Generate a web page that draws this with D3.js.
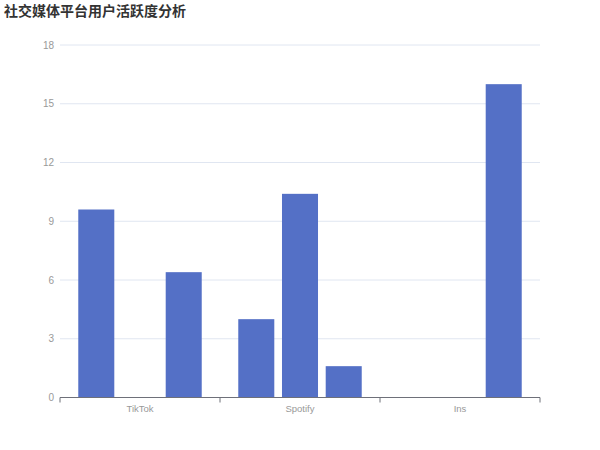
<!DOCTYPE html>
<html><head><meta charset="utf-8">
<script src="https://cdn.jsdelivr.net/npm/d3@7/dist/d3.min.js"></script>
<style>
html,body{margin:0;padding:0;background:#fff;}
svg{display:block;font-family:"Liberation Sans","Noto Sans CJK SC",sans-serif;}
</style></head>
<body>
<script>
const title = "社交媒体平台用户活跃度分析";
const categories = ["TikTok", "Spotify", "Ins"];
const seriesA = [9.6, 4.0, 0];
const seriesB = [0, 10.4, 0];
const seriesC = [6.4, 1.6, 16.0];
const yTicks = [0, 3, 6, 9, 12, 15, 18];

(function () {
const series = [seriesA, seriesB, seriesC];
const W = 600, H = 450;
const mLeft = 60, mRight = 540, mTop = 45, mBottom = 397.5;

const svg = d3.select("body").append("svg").attr("width", W).attr("height", H);

svg.append("text").attr("x", 4).attr("y", 16)
  .attr("font-size", 14).attr("font-weight", "bold").attr("fill", "#333")
  .attr("font-family", "'Noto Sans CJK SC',sans-serif")
  .text(title);

const x0 = d3.scaleBand().domain(categories).range([mLeft, mRight]).padding(0);
const x1 = d3.scaleBand().domain(d3.range(series.length))
  .range([0, x0.bandwidth()]).paddingInner(0.176).paddingOuter(0.418);
const y = d3.scaleLinear().domain([0, 18]).range([mBottom, mTop]);

// grid
svg.append("g").selectAll("line").data(yTicks.filter(d => d > 0)).join("line")
  .attr("x1", mLeft).attr("x2", mRight)
  .attr("y1", d => y(d)).attr("y2", d => y(d))
  .attr("stroke", "#E0E6F1").attr("stroke-width", 1);

// y labels
svg.append("g").selectAll("text").data(yTicks).join("text")
  .attr("x", mLeft - 6).attr("y", d => y(d)).attr("dy", "0.35em")
  .attr("text-anchor", "end").attr("font-size", 10).attr("fill", "#999")
  .text(d => d);

// bars
const groups = svg.append("g").selectAll("g").data(categories).join("g")
  .attr("transform", c => `translate(${x0(c)},0)`);
groups.selectAll("rect").data((c, ci) => series.map((s, si) => ({si, v: s[ci]})))
  .join("rect")
  .attr("x", d => x1(d.si)).attr("width", x1.bandwidth())
  .attr("y", d => y(d.v)).attr("height", d => y(0) - y(d.v))
  .attr("fill", "#5470c6");

// x axis
svg.append("line").attr("x1", mLeft).attr("x2", mRight).attr("y1", mBottom).attr("y2", mBottom)
  .attr("stroke", "#6E7079").attr("stroke-width", 1);
const tickPos = categories.map(c => x0(c)).concat([mRight]);
svg.append("g").selectAll("line").data(tickPos).join("line")
  .attr("x1", d => d).attr("x2", d => d).attr("y1", mBottom).attr("y2", mBottom + 5)
  .attr("stroke", "#6E7079").attr("stroke-width", 1);
svg.append("g").selectAll("text").data(categories).join("text")
  .attr("x", c => x0(c) + x0.bandwidth() / 2).attr("y", 412)
  .attr("text-anchor", "middle").attr("font-size", 9.5).attr("fill", "#999")
  .text(c => c);
})();
</script>
</body></html>
